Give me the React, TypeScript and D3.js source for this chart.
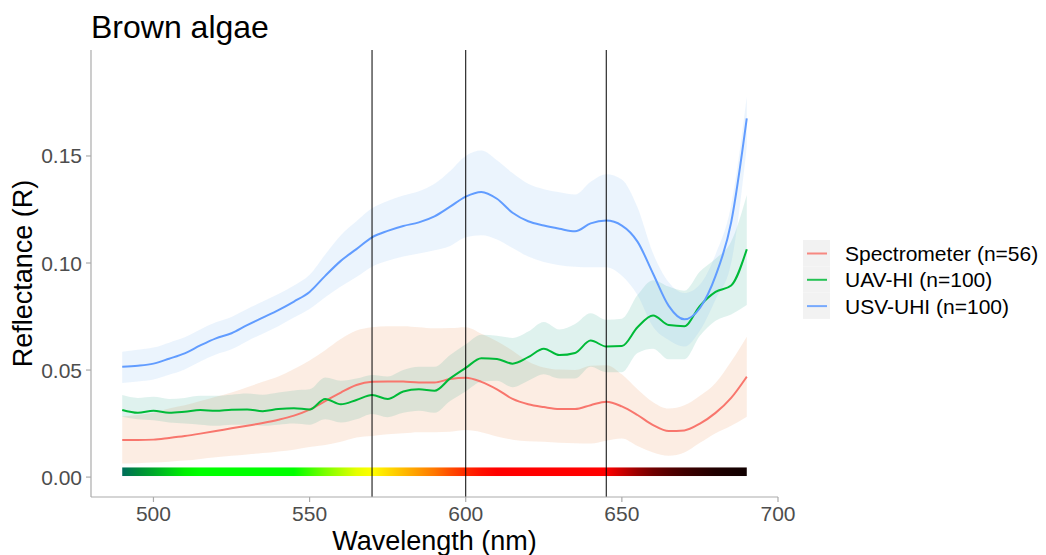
import * as d3 from 'd3';

// wavelength grid (nm)
const wavelengths = [
    490, 495, 500, 505, 510, 515, 520, 525, 530, 535, 540, 545, 550, 555, 560, 565, 570, 575, 580, 585, 590,
    595, 600, 605, 610, 615, 620, 625, 630, 635, 640, 645, 650, 655, 660, 665, 670, 675, 680, 685, 690,
];

// Spectrometer (n=56)
const specMean = [
    0.0173, 0.0173, 0.0175, 0.0183, 0.0192, 0.0203, 0.0215, 0.0228, 0.024, 0.0253, 0.0268, 0.0287, 0.0315,
    0.0355, 0.0395, 0.043, 0.0445, 0.0447, 0.0446, 0.0442, 0.0442, 0.0458, 0.0464, 0.0445, 0.041, 0.0365,
    0.034, 0.0327, 0.0318, 0.0318, 0.0336, 0.0352, 0.033, 0.029, 0.0243, 0.0215, 0.0218, 0.025, 0.03, 0.037,
    0.0469,
];
const specHigh = [
    0.0283, 0.029, 0.03, 0.032, 0.0335, 0.0355, 0.0375, 0.0395, 0.042, 0.0445, 0.047, 0.0505, 0.0545, 0.0593,
    0.0645, 0.0685, 0.07, 0.0705, 0.0705, 0.07, 0.0695, 0.0696, 0.07, 0.067, 0.0635, 0.059, 0.054, 0.0512,
    0.0502, 0.05, 0.052, 0.0523, 0.048, 0.041, 0.035, 0.032, 0.0335, 0.038, 0.044, 0.054, 0.0656,
];
const specLow = [
    0.0064, 0.0065, 0.0068, 0.0072, 0.0077, 0.0085, 0.0093, 0.01, 0.0106, 0.0112, 0.012, 0.0128, 0.014, 0.015,
    0.0165, 0.0185, 0.0192, 0.02, 0.0205, 0.021, 0.021, 0.0212, 0.022, 0.021, 0.019, 0.0175, 0.0168, 0.0165,
    0.016, 0.0158, 0.0157, 0.017, 0.018, 0.0145, 0.0115, 0.01, 0.0115, 0.016, 0.0205, 0.024, 0.0282,
];

// UAV-HI (n=100)
const uavMean = [
    0.0313, 0.03, 0.031, 0.03, 0.0305, 0.0313, 0.031, 0.0315, 0.0316, 0.0308, 0.0318, 0.0322, 0.0316, 0.0365,
    0.034, 0.036, 0.0383, 0.0365, 0.04, 0.041, 0.0403, 0.0461, 0.051, 0.0555, 0.0552, 0.053, 0.056, 0.06,
    0.057, 0.058, 0.0638, 0.061, 0.0612, 0.07, 0.0755, 0.071, 0.0705, 0.08, 0.0865, 0.0895, 0.1064,
];
const uavHigh = [
    0.0383, 0.037, 0.0375, 0.0365, 0.037, 0.038, 0.038, 0.0385, 0.039, 0.0385, 0.0395, 0.0405, 0.041, 0.0465,
    0.045, 0.046, 0.0477, 0.047, 0.05, 0.0515, 0.0515, 0.057, 0.062, 0.0665, 0.066, 0.065, 0.068, 0.0725,
    0.069, 0.0715, 0.0765, 0.0735, 0.074, 0.085, 0.092, 0.089, 0.087, 0.096, 0.102, 0.11, 0.1318,
];
const uavLow = [
    0.0282, 0.027, 0.0265, 0.0255, 0.025, 0.0245, 0.024, 0.0245, 0.0245, 0.024, 0.0245, 0.025, 0.0245, 0.027,
    0.0255, 0.027, 0.0295, 0.028, 0.03, 0.031, 0.03, 0.0355, 0.04, 0.0445, 0.045, 0.042, 0.045, 0.048, 0.046,
    0.046, 0.0515, 0.049, 0.049, 0.058, 0.06, 0.055, 0.055, 0.066, 0.073, 0.076, 0.0804,
];

// USV-UHI (n=100)
const usvMean = [
    0.0515, 0.052, 0.053, 0.0553, 0.0578, 0.0615, 0.0648, 0.0672, 0.071, 0.0745, 0.078, 0.082, 0.0865, 0.094,
    0.101, 0.1065, 0.112, 0.115, 0.1173, 0.119, 0.1218, 0.1263, 0.131, 0.1332, 0.13, 0.1235, 0.1195, 0.1175,
    0.116, 0.1148, 0.1185, 0.1198, 0.1175, 0.11, 0.095, 0.08, 0.0737, 0.079, 0.094, 0.119, 0.1676,
];
const usvHigh = [
    0.0586, 0.0595, 0.0605, 0.0628, 0.0653, 0.069, 0.0723, 0.0748, 0.0785, 0.082, 0.0855, 0.0895, 0.0945,
    0.104, 0.113, 0.1195, 0.1256, 0.129, 0.1315, 0.1335, 0.137, 0.143, 0.15, 0.1525, 0.148, 0.142, 0.137,
    0.1345, 0.133, 0.132, 0.138, 0.1415, 0.139, 0.126, 0.1045, 0.091, 0.086, 0.09, 0.104, 0.127, 0.1777,
];
const usvLow = [
    0.044, 0.0447, 0.0456, 0.0478, 0.0503, 0.054, 0.0573, 0.0597, 0.0635, 0.067, 0.0705, 0.0745, 0.0785, 0.084,
    0.089, 0.0935, 0.0983, 0.101, 0.103, 0.1045, 0.106, 0.108, 0.112, 0.113, 0.111, 0.107, 0.103, 0.1005,
    0.099, 0.0983, 0.098, 0.098, 0.094, 0.085, 0.0702, 0.064, 0.061, 0.0685, 0.083, 0.1, 0.1543,
];

const seriesNames = ['Spectrometer (n=56)', 'UAV-HI (n=100)', 'USV-UHI (n=100)'];
const lineColors = ['#F8766D', '#00BA38', '#619CFF'];
const ribbonColors = ['#EB8744', '#2AA88E', '#7AB6F2'];

const bandLines = [570, 600, 645];
const xTicks = [500, 550, 600, 650, 700];
const yTicks = [0, 0.05, 0.1, 0.15];

// colour bar along the bottom
const barStopsNm = [490, 495, 500, 505, 510, 515, 545, 550, 555, 560, 565, 570, 575, 580, 585, 590, 595, 600, 605, 610, 645, 650, 655, 660, 665, 670, 675, 680, 690];
const barStopsColor = [
    '#006d5b', '#008a3c', '#00a82a', '#00cc18', '#00f000', '#00ff00', '#00ff00', '#3cff00', '#7aff00', '#b0ff00',
    '#e6ff00', '#ffff00', '#ffdd00', '#ffbb00', '#ff9900', '#ff7700', '#ff4d00', '#ff2a00', '#ff1000', '#ff0000',
    '#ff0000', '#cc0000', '#990000', '#700000', '#550000', '#400000', '#300000', '#200000', '#100000',
];

export default function App() {
    const width = 1046;
    const height = 555;
    const margins = { top: 50, bottom: 58, left: 91, right: 268 };
    const font = "'Liberation Sans', Arial, sans-serif";

    const xScale = d3.scaleLinear().domain([480, 700]).range([margins.left, width - margins.right]);
    const yScale = d3.scaleLinear().domain([-0.0093, 0.1995]).range([height - margins.bottom, margins.top]);

    const series = [
        { mean: specMean, low: specLow, high: specHigh },
        { mean: uavMean, low: uavLow, high: uavHigh },
        { mean: usvMean, low: usvLow, high: usvHigh },
    ];

    const area = d3
        .area<number>()
        .x((_, i) => xScale(wavelengths[i]))
        .curve(d3.curveMonotoneX);
    const line = d3
        .line<number>()
        .x((_, i) => xScale(wavelengths[i]))
        .y((d) => yScale(d))
        .curve(d3.curveMonotoneX);

    const barFirst = barStopsNm[0];
    const barLast = barStopsNm[barStopsNm.length - 1];
    const axisColor = '#ababab';
    const bottom = height - margins.bottom;

    return (
        <svg
            width={width}
            height={height}
            viewBox={`0 0 ${width} ${height}`}
            style={{ position: 'absolute', left: 0, top: 0, background: '#fff' }}
            fontFamily={font}
        >
            <defs>
                <linearGradient id='wlbar' gradientUnits='userSpaceOnUse' x1={xScale(barFirst)} x2={xScale(barLast)} y1={0} y2={0}>
                    {barStopsNm.map((nm, i) => (
                        <stop key={nm} offset={(nm - barFirst) / (barLast - barFirst)} stopColor={barStopsColor[i]} />
                    ))}
                </linearGradient>
            </defs>

            {/* ribbons */}
            {series.map((s, k) => (
                <path
                    key={'r' + k}
                    d={area.y0((_, i) => yScale(s.low[i])).y1((_, i) => yScale(s.high[i]))(s.mean) as string}
                    fill={ribbonColors[k]}
                    fillOpacity={0.15}
                />
            ))}
            {/* mean lines */}
            {series.map((s, k) => (
                <path key={'l' + k} d={line(s.mean) as string} fill='none' stroke={lineColors[k]} strokeWidth={2} />
            ))}

            {/* colour bar */}
            <rect
                x={xScale(barFirst)}
                width={xScale(barLast) - xScale(barFirst)}
                y={yScale(0.0045)}
                height={yScale(0.0005) - yScale(0.0045)}
                fill='url(#wlbar)'
            />

            {/* band markers */}
            {bandLines.map((nm) => (
                <line key={nm} x1={xScale(nm)} x2={xScale(nm)} y1={margins.top} y2={bottom} stroke='#000' strokeWidth={1} />
            ))}

            {/* axes */}
            <line x1={margins.left} x2={margins.left} y1={margins.top} y2={bottom} stroke={axisColor} strokeWidth={1.2} />
            <line x1={margins.left} x2={xScale(700)} y1={bottom} y2={bottom} stroke={axisColor} strokeWidth={1.2} />
            {yTicks.map((t) => (
                <g key={t} transform={`translate(0, ${yScale(t)})`}>
                    <line x1={margins.left - 5} x2={margins.left} stroke={axisColor} strokeWidth={1.2} />
                    <text x={margins.left - 9} textAnchor='end' dominantBaseline='central' fontSize={21} fill='#4d4d4d'>
                        {d3.format('.2f')(t)}
                    </text>
                </g>
            ))}
            {xTicks.map((t) => (
                <g key={t} transform={`translate(${xScale(t)}, ${bottom})`}>
                    <line y1={0} y2={5} stroke={axisColor} strokeWidth={1.2} />
                    <text y={24} textAnchor='middle' fontSize={21} fill='#4d4d4d'>
                        {t}
                    </text>
                </g>
            ))}

            {/* titles */}
            <text x={margins.left} y={37.5} fontSize={32} fill='#000'>
                Brown algae
            </text>
            <text x={(margins.left + xScale(700)) / 2} y={549.5} textAnchor='middle' fontSize={27} fill='#000'>
                Wavelength (nm)
            </text>
            <text
                transform={`translate(32, ${(margins.top + bottom) / 2}) rotate(-90)`}
                textAnchor='middle'
                fontSize={27}
                fill='#000'
            >
                Reflectance (R)
            </text>

            {/* legend */}
            <g transform='translate(803, 240)'>
                {seriesNames.map((name, k) => (
                    <g key={name} transform={`translate(0, ${k * 26.3})`}>
                        <rect width={27} height={26.3} fill='#f2f2f2' />
                        <line x1={4} x2={24} y1={13.5} y2={13.5} stroke={lineColors[k]} strokeWidth={2} strokeOpacity={0.85} />
                        <text x={42} y={13.5} dominantBaseline='central' fontSize={21} fill='#000'>
                            {name}
                        </text>
                    </g>
                ))}
            </g>
        </svg>
    );
}
